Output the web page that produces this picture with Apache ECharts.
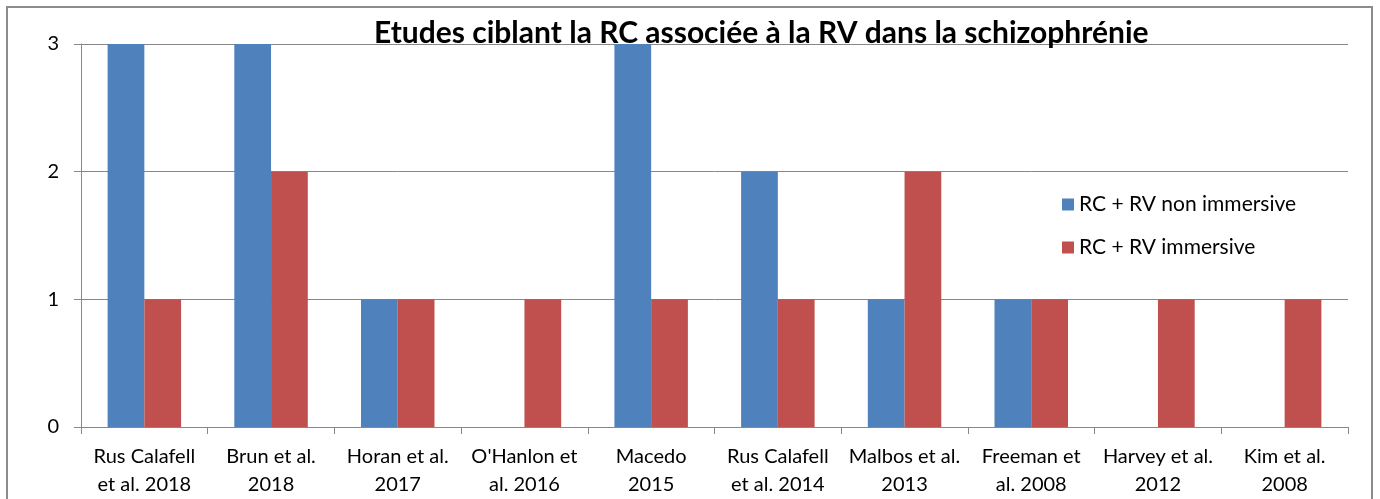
<!DOCTYPE html>
<html><head><meta charset="utf-8">
<script src="https://cdn.jsdelivr.net/npm/echarts@6/dist/echarts.min.js"></script>
<style>html,body{margin:0;padding:0;background:#fff}#c{width:1380px;height:499px}</style>
</head><body><div id="c"></div>
<script>
const categories = ["Rus Calafell\net al. 2018","Brun et al.\n2018","Horan et al.\n2017","O'Hanlon et\nal. 2016","Macedo\n2015","Rus Calafell\net al. 2014","Malbos et al.\n2013","Freeman et\nal. 2008","Harvey et al.\n2012","Kim et al.\n2008"];
const nonImmersive = [3,3,1,0,3,2,1,1,0,0];
const immersive = [1,2,1,1,1,1,2,1,1,1];
const yTicks = [0,1,2,3];
const seriesNames = ["RC + RV non immersive","RC + RV immersive"];
const titleText = "Etudes ciblant la RC associée à la RV dans la schizophrénie";

const chart = echarts.init(document.getElementById('c'));
const font = "Lato, 'Open Sans', sans-serif";
chart.setOption({
  animation:false,
  backgroundColor:'#fff',
  title:{text:titleText,left:369,top:13,textStyle:{fontFamily:font,fontWeight:'bold',fontSize:30,color:'#000'}},
  graphic:[{type:'rect',shape:{x:7,y:7,width:1365,height:520},style:{fill:'none',stroke:'#8c8c8c',lineWidth:2},silent:true}],
  legend:{orient:'vertical',left:1057,top:189,itemWidth:12,itemHeight:12,itemGap:22,icon:'rect',
    textStyle:{fontFamily:font,fontSize:21,color:'#000'},data:seriesNames},
  grid:{left:81,right:32,top:44,bottom:72,containLabel:false},
  xAxis:{type:'category',data:categories,
    axisLine:{lineStyle:{color:'#888',width:1}},
    axisTick:{show:true,alignWithLabel:false,length:7,lineStyle:{color:'#888'}},
    axisLabel:{fontFamily:font,fontSize:20,color:'#000',lineHeight:28,margin:16,interval:0}},
  yAxis:{type:'value',min:0,max:3,interval:1,
    axisLine:{show:true,lineStyle:{color:'#888'}},
    axisTick:{show:true,length:7,lineStyle:{color:'#888'}},
    splitLine:{lineStyle:{color:'#888',width:1}},
    axisLabel:{fontFamily:font,fontSize:20,color:'#000',margin:22,formatter:v=>yTicks.includes(v)?String(v):''}},
  series:[
    {name:seriesNames[0],type:'bar',data:nonImmersive,itemStyle:{color:'#4F81BD'},barGap:'0%',barCategoryGap:'42%'},
    {name:seriesNames[1],type:'bar',data:immersive,itemStyle:{color:'#C0504D'},barGap:'0%',barCategoryGap:'42%'}
  ]
});
</script></body></html>
